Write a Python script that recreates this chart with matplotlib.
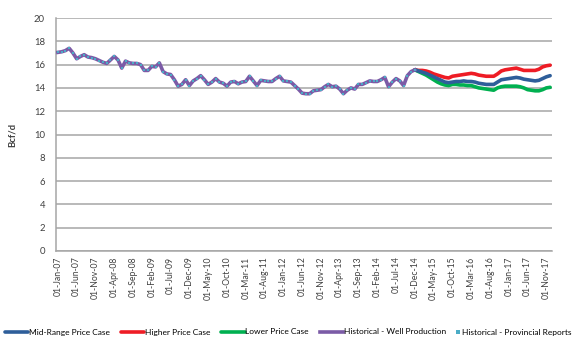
import matplotlib
matplotlib.use("Agg")
import matplotlib.pyplot as plt
import pandas as pd
import numpy as np

plt.rcParams['font.family'] = ['Lato', 'DejaVu Sans']

# Monthly categories Jan-07 .. Dec-17
months = pd.date_range("2007-01-01", "2017-12-01", freq="MS")
labels = [d.strftime("%d-%b-%y") for d in months]

historical = [17.05, 17.1, 17.2, 17.4, 17.0, 16.5, 16.7, 16.85, 16.65, 16.6,
              16.5, 16.35, 16.2, 16.1, 16.4, 16.7, 16.4, 15.7, 16.3, 16.15,
              16.1, 16.1, 16.0, 15.5, 15.5, 15.85, 15.8, 16.15, 15.4, 15.2,
              15.15, 14.7, 14.15, 14.3, 14.7, 14.2, 14.6, 14.8, 15.05, 14.7,
              14.3, 14.5, 14.8, 14.5, 14.4, 14.15, 14.5, 14.55, 14.35, 14.5,
              14.55, 15.0, 14.6, 14.2, 14.65, 14.6, 14.55, 14.55, 14.8, 15.0,
              14.6, 14.55, 14.5, 14.2, 13.9, 13.55, 13.5, 13.5, 13.75, 13.8,
              13.85, 14.1, 14.3, 14.1, 14.15, 13.9, 13.5, 13.8, 14.0, 13.9,
              14.3, 14.3, 14.45, 14.6, 14.55, 14.55, 14.7, 14.9, 14.1, 14.5,
              14.8, 14.6, 14.2, 15.05, 15.4, 15.55]

higher = [15.55, 15.5, 15.5, 15.45, 15.35, 15.2, 15.1, 15.0, 14.9, 14.85,
          15.0, 15.05, 15.1, 15.15, 15.2, 15.25, 15.2, 15.1, 15.05, 15.0,
          15.0, 15.0, 15.2, 15.45, 15.55, 15.6, 15.65, 15.7, 15.6, 15.5,
          15.5, 15.5, 15.5, 15.6, 15.8, 15.9, 15.95]
mid = [15.55, 15.45, 15.35, 15.25, 15.1, 14.95, 14.8, 14.65, 14.5, 14.45,
       14.5, 14.55, 14.55, 14.6, 14.55, 14.55, 14.5, 14.4, 14.35, 14.3,
       14.3, 14.3, 14.5, 14.7, 14.75, 14.8, 14.85, 14.9, 14.85, 14.75,
       14.7, 14.65, 14.6, 14.65, 14.8, 14.95, 15.05]
lower = [15.55, 15.4, 15.25, 15.1, 14.9, 14.7, 14.5, 14.35, 14.25, 14.2,
         14.3, 14.3, 14.25, 14.25, 14.2, 14.2, 14.1, 14.0, 13.95, 13.9,
         13.85, 13.8, 14.0, 14.1, 14.15, 14.15, 14.15, 14.15, 14.1, 14.0,
         13.85, 13.8, 13.75, 13.75, 13.85, 14.0, 14.05]

yticks = [0, 2, 4, 6, 8, 10, 12, 14, 16, 18, 20]

x_hist = np.arange(len(historical))
x_fc = np.arange(len(historical) - 1, len(historical) - 1 + len(mid))

fig = plt.figure(figsize=(5.8, 3.4), dpi=100)
ax = fig.add_axes([56 / 580, 1 - 251 / 340, (552 - 56) / 580, (251 - 18) / 340])

l1, = ax.plot(x_fc, mid, color="#2E5E9A", lw=2.6, label="Mid-Range Price Case", zorder=4, solid_capstyle='round')
l2, = ax.plot(x_fc, higher, color="#EE1C25", lw=2.6, label="Higher Price Case", zorder=3, solid_capstyle='round')
l3, = ax.plot(x_fc, lower, color="#00B050", lw=2.6, label="Lower Price Case", zorder=3, solid_capstyle='round')
l4, = ax.plot(x_hist, historical, color="#7B5BA6", lw=2.6, label="Historical - Well Production", zorder=5)
l5, = ax.plot(x_hist, historical, ls="none", marker="s", ms=1.6, mew=0, color="#4BACC6",
              label="Historical - Provincial Reports", zorder=6)

ax.set_xlim(-0.5, len(months) - 0.5)
ax.set_ylim(0, 20)
ax.set_yticks(yticks)
ax.set_yticklabels([str(v) for v in yticks], fontsize=6.8)
tick_pos = np.arange(0, len(months), 5)
ax.set_xticks(tick_pos)
ax.set_xticklabels([labels[i] for i in tick_pos], rotation=90, fontsize=6.2)
ax.tick_params(axis='both', length=0, pad=4, colors="#404040")
ax.tick_params(axis='y', pad=8)
ax.grid(axis='y', color="#A6A6A6", lw=1.1)
ax.set_axisbelow(True)
for s in ["top", "right"]:
    ax.spines[s].set_visible(False)
ax.spines["left"].set_color("#A6A6A6")
ax.spines["bottom"].set_color("#A6A6A6")
ax.spines["left"].set_linewidth(1.1)
ax.spines["bottom"].set_linewidth(1.1)
ax.set_ylabel("Bcf/d", fontsize=6.8, fontweight="bold", labelpad=12, color="#404040")

leg_kw = dict(frameon=False, fontsize=6.0, handletextpad=0.1,
              numpoints=1, borderpad=0, borderaxespad=0)
leg1 = fig.legend(handles=[l1, l2, l3, l4], loc="center left",
                  bbox_to_anchor=(5 / 580, 1 - 332 / 340), ncol=4,
                  handlelength=2.8, columnspacing=1.3, **leg_kw)
leg2 = fig.legend(handles=[l5], loc="center left",
                  bbox_to_anchor=(455 / 580, 1 - 332 / 340), ncol=1,
                  handlelength=0.7, markerscale=1.8, **leg_kw)

fig.savefig("out.png", dpi=100)
